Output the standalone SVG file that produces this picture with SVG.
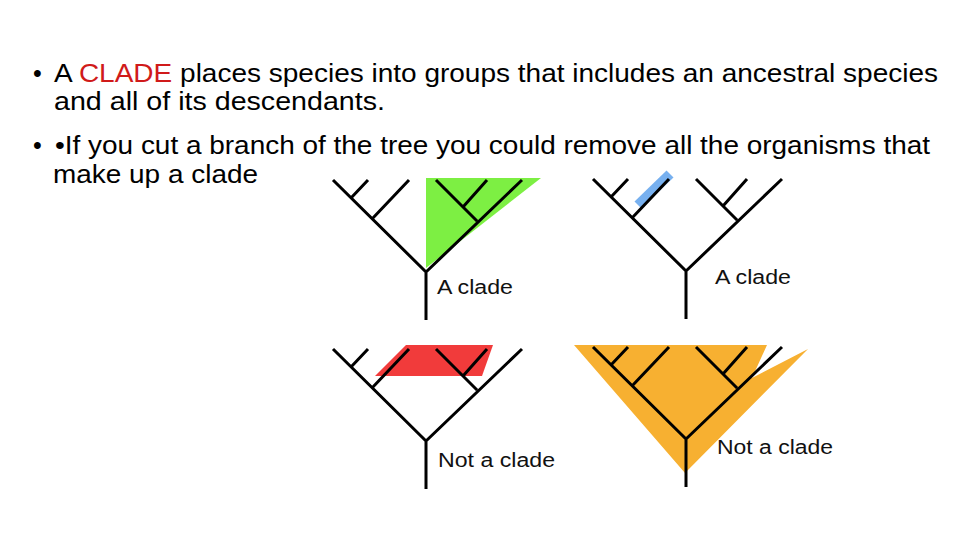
<svg xmlns="http://www.w3.org/2000/svg" xmlns:xlink="http://www.w3.org/1999/xlink" width="960" height="540" viewBox="0 0 960 540">
<style>
.t{font-family:"Liberation Sans",Arial,sans-serif;font-size:25px;fill:#000}
.lb{font-family:"Liberation Sans",Arial,sans-serif;font-size:20px;fill:#111}
.br{fill:none;stroke:#000;stroke-width:3;stroke-linecap:butt}
</style>
<defs>
<g id="tree">
<path class="br" d="M0,0 V48 M0,0 L-93,-92 M0,0 L96,-92 M-54,-53 L-17,-92 M-75,-74 L-58,-92 M51,-51 L10,-92 M37,-65 L61,-92"/>
</g>
</defs>
<rect width="960" height="540" fill="#fff"/>
<g id="text">
<text class="t" x="33" y="82">•</text>
<text class="t" x="54" y="82" textLength="884" lengthAdjust="spacingAndGlyphs">A <tspan fill="#d01a1a">CLADE</tspan> places species into groups that includes an ancestral species</text>
<text class="t" x="54" y="110" textLength="331" lengthAdjust="spacingAndGlyphs">and all of its descendants.</text>
<text class="t" x="33" y="154">•</text>
<text class="t" x="55" y="154" textLength="875" lengthAdjust="spacingAndGlyphs">•If you cut a branch of the tree you could remove all the organisms that</text>
<text class="t" x="53" y="183" textLength="205" lengthAdjust="spacingAndGlyphs">make up a clade</text>
</g>
<g id="panel-clade-green">
<polygon points="426,178 541,178 426,268" fill="#7def43"/>
<use xlink:href="#tree" x="426" y="272"/>
<text class="lb" x="437" y="294" textLength="76" lengthAdjust="spacingAndGlyphs">A clade</text>
</g>
<g id="panel-clade-blue">
<line x1="638" y1="205" x2="670" y2="174" stroke="#5fa2ec" stroke-opacity="0.85" stroke-width="10"/>
<use xlink:href="#tree" x="686" y="271"/>
<text class="lb" x="715" y="284" textLength="76" lengthAdjust="spacingAndGlyphs">A clade</text>
</g>
<g id="panel-not-clade-red">
<polygon points="406,345 493,345 482,376 375,376" fill="#f13b3b"/>
<use xlink:href="#tree" x="426" y="441"/>
<text class="lb" x="438" y="467" textLength="117" lengthAdjust="spacingAndGlyphs">Not a clade</text>
</g>
<g id="panel-not-clade-orange">
<polygon points="574,345 767,345 752,378 808,349 685,473" fill="#f7b031"/>
<use xlink:href="#tree" x="686" y="439"/>
<text class="lb" x="717" y="454" textLength="116" lengthAdjust="spacingAndGlyphs">Not a clade</text>
</g>
</svg>
